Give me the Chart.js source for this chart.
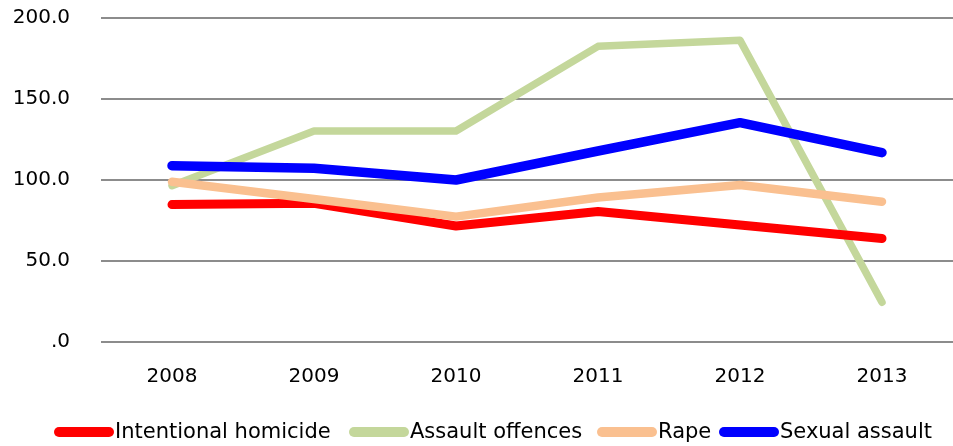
<!DOCTYPE html>
<html>
<head>
<meta charset="utf-8">
<script src="https://cdn.jsdelivr.net/npm/chart.js@4"></script>
<style>
  html, body { margin: 0; padding: 0; background: #ffffff; }
  #wrap { width: 953px; height: 446px; position: relative; }
</style>
</head>
<body>
<div id="wrap"><canvas id="crimeChart"></canvas></div>
<script>
const years = ['2008', '2009', '2010', '2011', '2012', '2013'];
const homicide = [84.8, 85.6, 71.6, 80.6, 72.2, 63.9];
const assault = [96.5, 130.2, 130.2, 182.5, 186.3, 24.5];
const rape = [98.9, 88.3, 77.4, 89.2, 96.9, 86.6];
const sexualAssault = [108.8, 107.2, 100.0, 117.9, 135.4, 116.9];
const yTicks = [0, 50, 100, 150, 200];

const font = 'DejaVu Sans';

// legend drawn by hand so the text sits right against the swatch, like the original
const bottomLegend = {
    id: 'bottomLegend',
    afterDraw(chart) {
        const c = chart.ctx;
        const starts = [55, 350, 598, 720];
        c.save();
        c.font = '21px "' + font + '"';
        c.textBaseline = 'middle';
        c.fillStyle = '#000000';
        chart.data.datasets.forEach((ds, i) => {
            const x = starts[i];
            const y = 432;
            c.strokeStyle = ds.borderColor;
            c.lineWidth = 10;
            c.lineCap = 'round';
            c.beginPath();
            c.moveTo(x + 4, y);
            c.lineTo(x + 54, y);
            c.stroke();
            c.fillText(ds.label, x + 60, y + 1);
        });
        c.restore();
    }
};

const ctx = document.getElementById('crimeChart').getContext('2d');
new Chart(ctx, {
    type: 'line',
    data: {
        labels: years,
        datasets: [
            { label: 'Intentional homicide', data: homicide, borderColor: '#FF0000', borderWidth: 9, order: 2 },
            { label: 'Assault offences', data: assault, borderColor: '#C4D79B', borderWidth: 7.5, order: 3 },
            { label: 'Rape', data: rape, borderColor: '#FAC090', borderWidth: 8.5, order: 1 },
            { label: 'Sexual assault', data: sexualAssault, borderColor: '#0000FF', borderWidth: 9.5, order: 0 }
        ]
    },
    options: {
        responsive: true,
        maintainAspectRatio: false,
        animation: false,
        devicePixelRatio: 1,
        elements: {
            point: { radius: 0, hoverRadius: 0 },
            line: { tension: 0, borderCapStyle: 'round', borderJoinStyle: 'round', fill: false }
        },
        layout: { padding: { top: 18, right: 0, left: 0, bottom: 0 } },
        scales: {
            x: {
                offset: true,
                grid: { display: false, drawTicks: false },
                border: { display: false },
                ticks: { color: '#000000', font: { family: font, size: 20 }, padding: 23, maxRotation: 0 },
                afterFit: s => { s.height = 104; }
            },
            y: {
                min: 0,
                max: 200,
                afterBuildTicks: s => { s.ticks = yTicks.map(v => ({ value: v })); },
                grid: { color: '#8c8c8c', lineWidth: 2, drawTicks: false },
                border: { display: false },
                ticks: {
                    color: '#000000',
                    font: { family: font, size: 20 },
                    padding: 31,
                    callback: v => v === 0 ? '.0' : v.toFixed(1)
                },
                afterFit: s => { s.width = 101; s.paddingTop = 0; s.paddingBottom = 0; }
            }
        },
        plugins: {
            legend: { display: false },
            tooltip: { enabled: false }
        }
    },
    plugins: [bottomLegend]
});
</script>
</body>
</html>
